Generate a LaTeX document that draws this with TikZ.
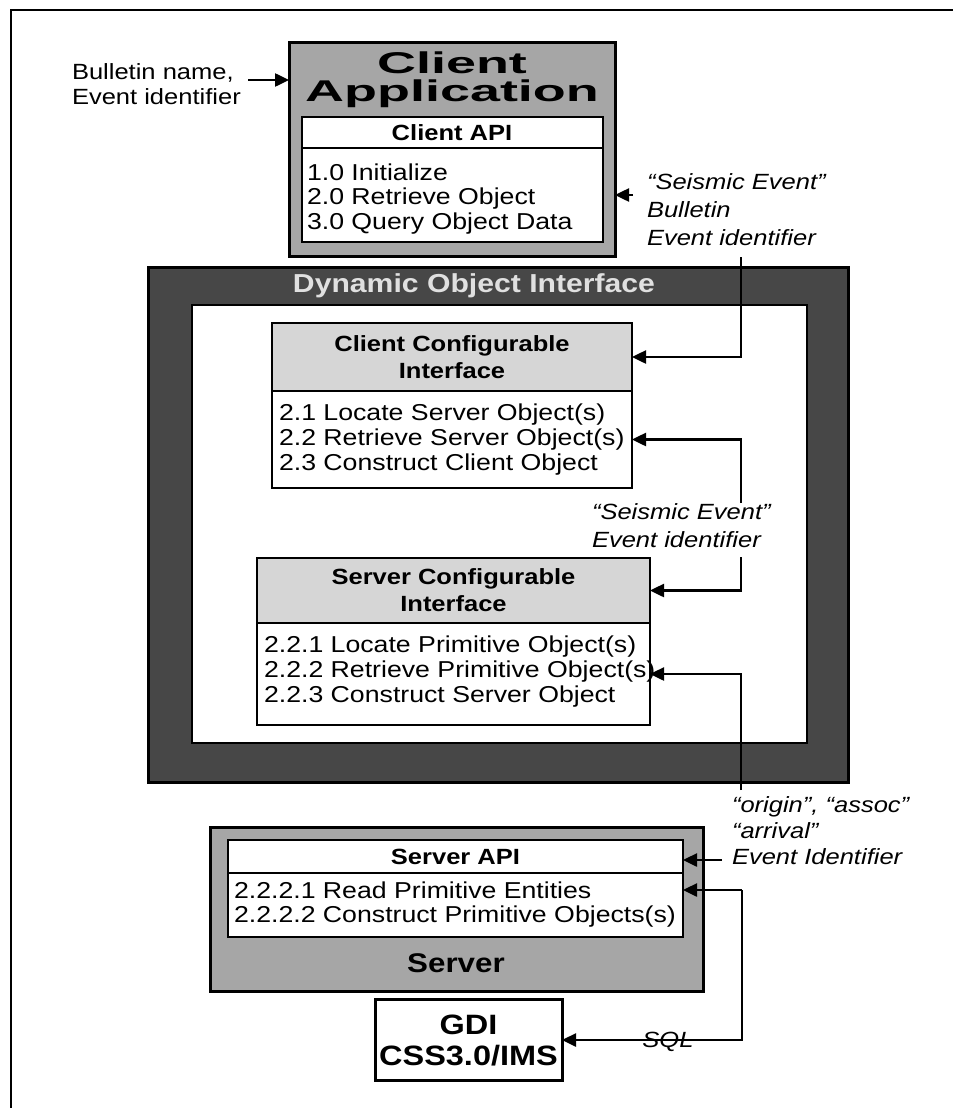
\documentclass[tikz,border=0pt]{standalone}
\usepackage{graphicx}
\usepackage{fontspec}
\setmainfont{Liberation Sans}[FakeStretch=1.16]
\usetikzlibrary{arrows.meta}

\tikzset{
    every node/.style={inner sep=0pt, outer sep=0pt},
    shell/.style={draw, line width=3pt, fill=black!35},
    doiframe/.style={draw, line width=3pt, fill=black!72},
    panel/.style={draw, line width=2.5pt, fill=white},
    cfghead/.style={draw, line width=2.5pt, fill=black!16},
    apptitle/.style={font=\fontsize{30}{28}\selectfont\bfseries, align=center},
    hdr/.style={font=\fontsize{22}{27}\selectfont\bfseries, align=center},
    items/.style={font=\fontsize{23}{24.5}\selectfont, align=left, anchor=west},
    plainlbl/.style={font=\fontsize{22}{25}\selectfont, align=left, anchor=west},
    cue/.style={font=\fontsize{22}{28}\selectfont\itshape, align=left, anchor=west},
    conn/.style={line width=2.5pt},
    arr/.style={conn, -{Triangle[length=14pt,width=13pt]}},
}

\begin{document}
\begin{tikzpicture}[x=1pt, y=-1pt]
    \useasboundingbox (0,0) rectangle (953,1108);
    \draw[line width=2.5pt] (11,1108) -- (11,10) -- (953,10);

    % client application
    \node[shell, minimum width=326, minimum height=213] (capp) at (452,149.5) {};
    \node[apptitle] (capptitle) at (452,80) {\scalebox{1.55}[1]{Client}\\\scalebox{1.55}[1]{Application}};
    \node[panel, minimum width=301, minimum height=125] (capi) at (452.5,179.5) {};
    \draw[line width=2.5pt] (capi.west |- 0,148) -- (capi.east |- 0,148);
    \node[hdr] (capihead) at (452,133) {Client API};
    \node[items] (capiitems) at (307,199) {1.0 Initialize\\2.0 Retrieve Object\\3.0 Query Object Data};

    \node[plainlbl] (bulletin) at (72,84) {Bulletin name,\\Event identifier};
    \coordinate (jin) at (248,80);
    \draw[arr] (jin) -- (jin -| capp.west);

    \node[cue] (cue1) at (647,210) {“Seismic Event”\\Bulletin\\Event identifier};
    \coordinate (jc) at (633,195);
    \draw[arr] (jc) -- (jc -| capp.east);

    % dynamic object interface
    \node[doiframe, minimum width=700, minimum height=515] (doi) at (498,524.5) {};
    \node[panel, minimum width=615, minimum height=438] (doiin) at (499.5,524) {};
    \node[hdr, font=\fontsize{26}{28}\selectfont\bfseries, text=black!12] (doititle) at (474,286) {Dynamic Object Interface};

    \node[cfghead, hdr, minimum width=360, minimum height=68] (ccihead) at (452,357) {Client Configurable\\Interface};
    \node[panel, minimum width=360, minimum height=97, anchor=north] (cciitems) at (ccihead.south) {};
    \node[items, font=\fontsize{23}{25}\selectfont] (ccitext) at (279,440) {2.1 Locate Server Object(s)\\2.2 Retrieve Server Object(s)\\2.3 Construct Client Object};

    \node[cfghead, hdr, minimum width=393, minimum height=65] (scihead) at (453.5,590.5) {Server Configurable\\Interface};
    \node[panel, minimum width=393, minimum height=102, anchor=north] (sciitems) at (scihead.south) {};
    \node[items, font=\fontsize{23}{25}\selectfont] (scitext) at (264,672) {2.2.1 Locate Primitive Object(s)\\2.2.2 Retrieve Primitive Object(s)\\2.2.3 Construct Server Object};

    \node[cue] (cue2) at (592,526) {“Seismic Event”\\Event identifier};
    \coordinate (j1) at (741,257);
    \coordinate (j2) at (741,503);
    \coordinate (j3) at (741,557);
    \coordinate (j4) at (741,790);
    \draw[arr] (j1) |- (ccihead);
    \draw[arr] (j2) |- (cciitems);
    \draw[arr] (j3) |- (scihead);
    \draw[arr] (j4) |- (sciitems);

    % server
    \node[cue, font=\fontsize{22}{26}\selectfont\itshape] (cue3) at (732,831) {“origin”, “assoc”\\“arrival”\\Event Identifier};
    \node[shell, minimum width=493, minimum height=164] (srv) at (456.5,909) {};
    \node[panel, hdr, minimum width=455, minimum height=33] (sapi) at (455.5,856.5) {Server API};
    \node[panel, minimum width=455, minimum height=64, anchor=north] (sapiitems) at (sapi.south) {};
    \node[items] (sapitext) at (234,904.5) {2.2.2.1 Read Primitive Entities\\2.2.2.2 Construct Primitive Objects(s)};
    \node[hdr, font=\fontsize{27}{30}\selectfont\bfseries] (srvtitle) at (456,963) {Server};

    \coordinate (j5) at (722,860);
    \draw[arr] (j5) -- (j5 -| sapi.east);

    \node[draw, line width=3pt, fill=white, minimum width=187, minimum height=81, font=\fontsize{28}{31}\selectfont\bfseries, align=center] (gdi) at (468.5,1040) {GDI\\CSS3.0/IMS};
    \coordinate (j6) at (742,890);
    \draw[arr] (j6) -- (j6 -| sapiitems.east);
    \draw[arr] (j6) |- (gdi);
    \node[cue, anchor=center] (sql) at (668,1042) {SQL};
\end{tikzpicture}
\end{document}
